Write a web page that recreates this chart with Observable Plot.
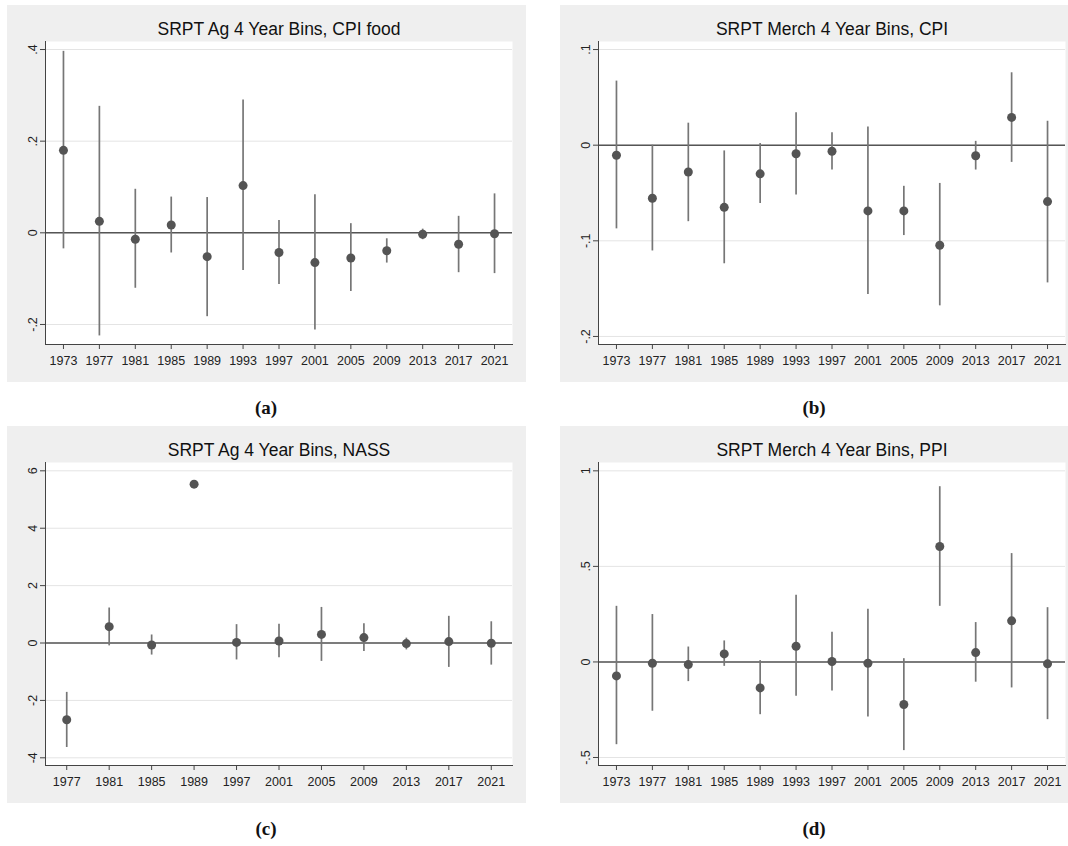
<!DOCTYPE html>
<html>
<head>
<meta charset="utf-8">
<script src="https://cdn.jsdelivr.net/npm/d3@7"></script>
<script src="https://cdn.jsdelivr.net/npm/@observablehq/plot@0.6"></script>
<style>
  html, body { margin: 0; padding: 0; background: #ffffff; }
  #root { position: relative; width: 1068px; height: 846px; background: #ffffff; overflow: hidden; }
  .panel { position: absolute; }
  .cap { position: absolute; width: 60px; text-align: center; font-family: "Liberation Serif", "DejaVu Serif", serif; font-weight: bold; font-size: 19px; color: #111; line-height: 20px; }
</style>
</head>
<body>
<div id="root"></div>
<script>
// ---------- data ----------
const yearsA = [1973, 1977, 1981, 1985, 1989, 1993, 1997, 2001, 2005, 2009, 2013, 2017, 2021];
const coefA = [0.180, 0.025, -0.014, 0.017, -0.052, 0.103, -0.043, -0.065, -0.055, -0.039, -0.003, -0.025, -0.002];
const loA   = [-0.035, -0.225, -0.121, -0.044, -0.183, -0.082, -0.113, -0.212, -0.128, -0.066, -0.015, -0.087, -0.089];
const hiA   = [0.396, 0.276, 0.095, 0.078, 0.077, 0.290, 0.027, 0.083, 0.020, -0.013, 0.008, 0.036, 0.085];

const yearsB = [1973, 1977, 1981, 1985, 1989, 1993, 1997, 2001, 2005, 2009, 2013, 2017, 2021];
const coefB = [-0.0105, -0.0555, -0.028, -0.065, -0.030, -0.009, -0.0063, -0.0687, -0.0687, -0.1046, -0.011, 0.029, -0.059];
const loB   = [-0.0875, -0.1106, -0.080, -0.124, -0.061, -0.052, -0.026, -0.156, -0.0945, -0.168, -0.026, -0.018, -0.144];
const hiB   = [0.067, 0.000, 0.023, -0.006, 0.0017, 0.034, 0.013, 0.019, -0.043, -0.040, 0.004, 0.0757, 0.025];

const yearsC = [1977, 1981, 1985, 1989, 1997, 2001, 2005, 2009, 2013, 2017, 2021];
const coefC = [-2.674, 0.57, -0.07, 5.535, 0.02, 0.07, 0.30, 0.19, -0.02, 0.05, -0.01];
const loC   = [-3.64, -0.10, -0.42, null, -0.59, -0.51, -0.64, -0.30, -0.24, -0.85, -0.77];
const hiC   = [-1.72, 1.22, 0.28, null, 0.64, 0.65, 1.24, 0.67, 0.17, 0.93, 0.74];

const yearsD = [1973, 1977, 1981, 1985, 1989, 1993, 1997, 2001, 2005, 2009, 2013, 2017, 2021];
const coefD = [-0.073, -0.007, -0.014, 0.042, -0.136, 0.082, 0.002, -0.007, -0.223, 0.604, 0.049, 0.215, -0.010];
const loD   = [-0.433, -0.258, -0.103, -0.023, -0.276, -0.180, -0.152, -0.288, -0.464, 0.291, -0.106, -0.136, -0.302];
const hiD   = [0.291, 0.248, 0.078, 0.110, 0.007, 0.349, 0.155, 0.276, 0.017, 0.917, 0.206, 0.567, 0.284];

const titles = ["SRPT Ag 4 Year Bins, CPI food", "SRPT Merch 4 Year Bins, CPI", "SRPT Ag 4 Year Bins, NASS", "SRPT Merch 4 Year Bins, PPI"];
const captions = ["(a)", "(b)", "(c)", "(d)"];
const ticksA = [-0.2, 0, 0.2, 0.4];
const ticksB = [-0.2, -0.1, 0, 0.1];
const ticksC = [-4, -2, 0, 2, 4, 6];
const ticksD = [-0.5, 0, 0.5, 1];

// ---------- drawing ----------
const stataFmt = d => String(d).replace(/^(-?)0\./, "$1.");

function panel({years, coef, lo, hi, title, yDomain, yTicks, width, marginRight}) {
  const data = years.map((y, i) => ({year: y, b: coef[i], lo: lo[i], hi: hi[i]}));
  return Plot.plot({
    width, height: 377,
    marginLeft: 38, marginRight, marginTop: 36, marginBottom: 38,
    style: {background: "#efefef", fontFamily: "'Liberation Sans', Arial, sans-serif", fontSize: "12.5px", color: "#222", overflow: "visible"},
    x: {type: "point", domain: years, padding: 0.5, round: false},
    y: {domain: yDomain},
    marks: [
      Plot.frame({fill: "white"}),
      Plot.gridY(yTicks, {stroke: "#e4e4e4", strokeOpacity: 1}),
      Plot.ruleY([0], {stroke: "#555555", strokeWidth: 1.6}),
      Plot.ruleX(data.filter(d => d.lo != null), {x: "year", y1: "lo", y2: "hi", stroke: "#767676", strokeWidth: 1.7}),
      Plot.dot(data, {x: "year", y: "b", r: 4.5, fill: "#545454", stroke: "none"}),
      Plot.axisX({tickSize: 5, tickPadding: 7, tickFormat: d => String(d), label: null, stroke: "#444"}),
      Plot.axisY(yTicks, {tickSize: 5, tickPadding: 4, tickFormat: stataFmt, tickRotate: -90, textAnchor: "middle", lineAnchor: "bottom", label: null, stroke: "#444"}),
      Plot.frame({anchor: "left", stroke: "#444"}),
      Plot.frame({anchor: "bottom", stroke: "#444"}),
      Plot.text([title], {frameAnchor: "top", dy: -7, lineAnchor: "bottom", fontSize: 17.5, fill: "#111"})
    ]
  });
}

const root = document.getElementById("root");
const specs = [
  {left: 7,   top: 5,   width: 519, marginRight: 14, years: yearsA, coef: coefA, lo: loA, hi: hiA, yDomain: [-0.2437, 0.4175], yTicks: ticksA},
  {left: 560, top: 5,   width: 508, marginRight: 3,  years: yearsB, coef: coefB, lo: loB, hi: hiB, yDomain: [-0.2084, 0.1084], yTicks: ticksB},
  {left: 7,   top: 426, width: 519, marginRight: 14, years: yearsC, coef: coefC, lo: loC, hi: hiC, yDomain: [-4.268, 6.29], yTicks: ticksC},
  {left: 560, top: 426, width: 508, marginRight: 3,  years: yearsD, coef: coefD, lo: loD, hi: hiD, yDomain: [-0.5419, 1.0436], yTicks: ticksD}
];
const capPos = [[266, 408], [814, 408], [266, 829], [814, 829]];
specs.forEach((s, i) => {
  const div = document.createElement("div");
  div.className = "panel";
  div.style.left = s.left + "px";
  div.style.top = s.top + "px";
  div.appendChild(panel({...s, title: titles[i]}));
  root.appendChild(div);
  const cap = document.createElement("div");
  cap.className = "cap";
  cap.textContent = captions[i];
  cap.style.left = (capPos[i][0] - 30) + "px";
  cap.style.top = (capPos[i][1] - 10) + "px";
  root.appendChild(cap);
});
</script>
</body>
</html>
